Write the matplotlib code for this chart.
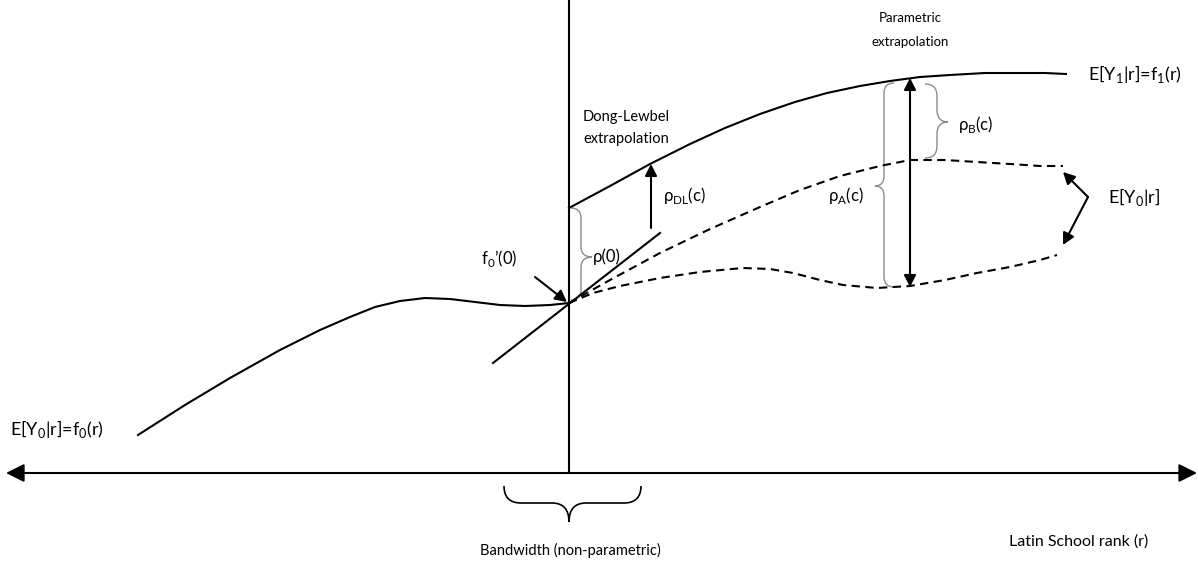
import matplotlib
matplotlib.use("Agg")
import matplotlib.pyplot as plt
from matplotlib.path import Path
from matplotlib.patches import PathPatch, FancyArrowPatch, ArrowStyle

plt.rcParams["font.family"] = ["Lato", "DejaVu Sans"]
plt.rcParams["mathtext.fontset"] = "custom"
plt.rcParams["mathtext.rm"] = "Lato"

# curves (pixel coords, y down)
f0_x = [138, 185, 230, 280, 320, 350, 375, 400, 425, 450, 475, 500, 525, 550, 569]
f0_y = [435, 405, 378, 350, 330, 317, 307, 301, 298, 299, 302, 305, 306, 305, 303]

f1_x = [569, 610, 650, 690, 725, 760, 795, 827, 860, 890, 920, 950, 985, 1020, 1045, 1066]
f1_y = [208, 186, 164, 144, 128, 114, 102, 93, 86, 81, 77, 75, 73, 73, 73, 74]

tan_x = [493, 660]
tan_y = [363, 233]

up_x = [569, 610, 660, 710, 760, 800, 840, 880, 910, 945, 977, 1010, 1040, 1063]
up_y = [303, 280, 253, 229, 207, 190, 176, 166, 160, 160, 162, 164, 166, 166]

lo_x = [569, 593, 620, 660, 700, 743, 770, 793, 820, 843, 877, 910, 945, 977, 1010, 1040, 1057]
lo_y = [303, 293, 286, 278, 272, 268, 269, 273, 280, 285, 288, 286, 280, 273, 267, 260, 255]

axis_y = 473
cutoff_x = 569


def arrow(ax, p0, p1, style="-|>", hl=7, hw=3.6, lw=1.5):
    st = ArrowStyle(style, head_length=hl, head_width=hw)
    ax.add_patch(FancyArrowPatch(p0, p1, arrowstyle=st, mutation_scale=1,
                                 lw=lw, color="black", shrinkA=0, shrinkB=0))


def vbrace(ax, xe, xs, xt, ytop, ybot, ymid, color="#8c8c8c", lw=1.0):
    r = abs(xs - xe)
    verts = [(xe, ytop), (xs, ytop), (xs, ytop + r), (xs, ymid - r),
             (xs, ymid), (xt, ymid), (xs, ymid), (xs, ymid + r),
             (xs, ybot - r), (xs, ybot), (xe, ybot)]
    codes = [Path.MOVETO, Path.CURVE3, Path.CURVE3, Path.LINETO,
             Path.CURVE3, Path.CURVE3, Path.CURVE3, Path.CURVE3,
             Path.LINETO, Path.CURVE3, Path.CURVE3]
    ax.add_patch(PathPatch(Path(verts, codes), fill=False, ec=color, lw=lw))


def hbrace(ax, ye, ys, yt, xl, xr, xmid, color="black", lw=1.2):
    r = abs(ys - ye)
    verts = [(xl, ye), (xl, ys), (xl + r, ys), (xmid - r, ys),
             (xmid, ys), (xmid, yt), (xmid, ys), (xmid + r, ys),
             (xr - r, ys), (xr, ys), (xr, ye)]
    codes = [Path.MOVETO, Path.CURVE3, Path.CURVE3, Path.LINETO,
             Path.CURVE3, Path.CURVE3, Path.CURVE3, Path.CURVE3,
             Path.LINETO, Path.CURVE3, Path.CURVE3]
    ax.add_patch(PathPatch(Path(verts, codes), fill=False, ec=color, lw=lw))


fig = plt.figure(figsize=(11.98, 5.69), dpi=100)
ax = fig.add_axes([0, 0, 1, 1])
ax.set_xlim(0, 1198)
ax.set_ylim(569, 0)
ax.axis("off")

# axes of the diagram
arrow(ax, (6, axis_y), (1197, axis_y), style="<|-|>", hl=11, hw=5.5, lw=1.5)
ax.plot([cutoff_x, cutoff_x], [0, axis_y], color="black", lw=1.5)

# curves
line_kw = dict(color="black", lw=1.5, solid_joinstyle="round")
ax.plot(f0_x, f0_y, **line_kw)
ax.plot(f1_x, f1_y, **line_kw)
ax.plot(tan_x, tan_y, **line_kw)
ax.plot(up_x, up_y, color="black", lw=1.5, linestyle=(0, (4, 2.6)))
ax.plot(lo_x, lo_y, color="black", lw=1.5, linestyle=(0, (4, 2.6)))

# arrows
arrow(ax, (651, 228), (651, 164))
arrow(ax, (910, 287), (910, 78), style="<|-|>")
arrow(ax, (535, 277), (567, 302))
arrow(ax, (1088, 197), (1063, 172))
arrow(ax, (1088, 197), (1063, 245))

# braces
vbrace(ax, 571, 581, 592, 208, 300, 257)
vbrace(ax, 894, 884, 875, 83, 287, 186)
vbrace(ax, 925, 937, 948, 84, 158, 122)
hbrace(ax, 486, 503, 522, 504, 641, cutoff_x)

fs = 12
efs = 13
ax.text(910, 18, "Parametric", fontsize=9.5, ha="center", va="center")
ax.text(910, 42, "extrapolation", fontsize=9.5, ha="center", va="center")
ax.text(583, 117, "Dong-Lewbel", fontsize=10.5, ha="left", va="center")
ax.text(583, 139, "extrapolation", fontsize=10.5, ha="left", va="center")
ax.text(663, 195, r"ρ$_\mathregular{DL}$(c)", fontsize=fs, ha="left", va="center")
ax.text(593, 257, "ρ(0)", fontsize=fs, ha="left", va="center")
ax.text(518, 258, r"f$_\mathregular{0}$’(0)", fontsize=fs, ha="right", va="center")
ax.text(828, 195, r"ρ$_\mathregular{A}$(c)", fontsize=fs, ha="left", va="center")
ax.text(958, 124, r"ρ$_\mathregular{B}$(c)", fontsize=fs, ha="left", va="center")
ax.text(1088, 74, r"E[Y$_\mathregular{1}$|r]=f$_\mathregular{1}$(r)", fontsize=efs, ha="left", va="center")
ax.text(1108, 197, r"E[Y$_\mathregular{0}$|r]", fontsize=efs, ha="left", va="center")
ax.text(10, 429, r"E[Y$_\mathregular{0}$|r]=f$_\mathregular{0}$(r)", fontsize=efs, ha="left", va="center")
ax.text(570, 550, "Bandwidth (non-parametric)", fontsize=10.5, ha="center", va="center")
ax.text(1009, 542, "Latin School rank (r)", fontsize=11.5, ha="left", va="center")

fig.savefig("out.png", dpi=100)
